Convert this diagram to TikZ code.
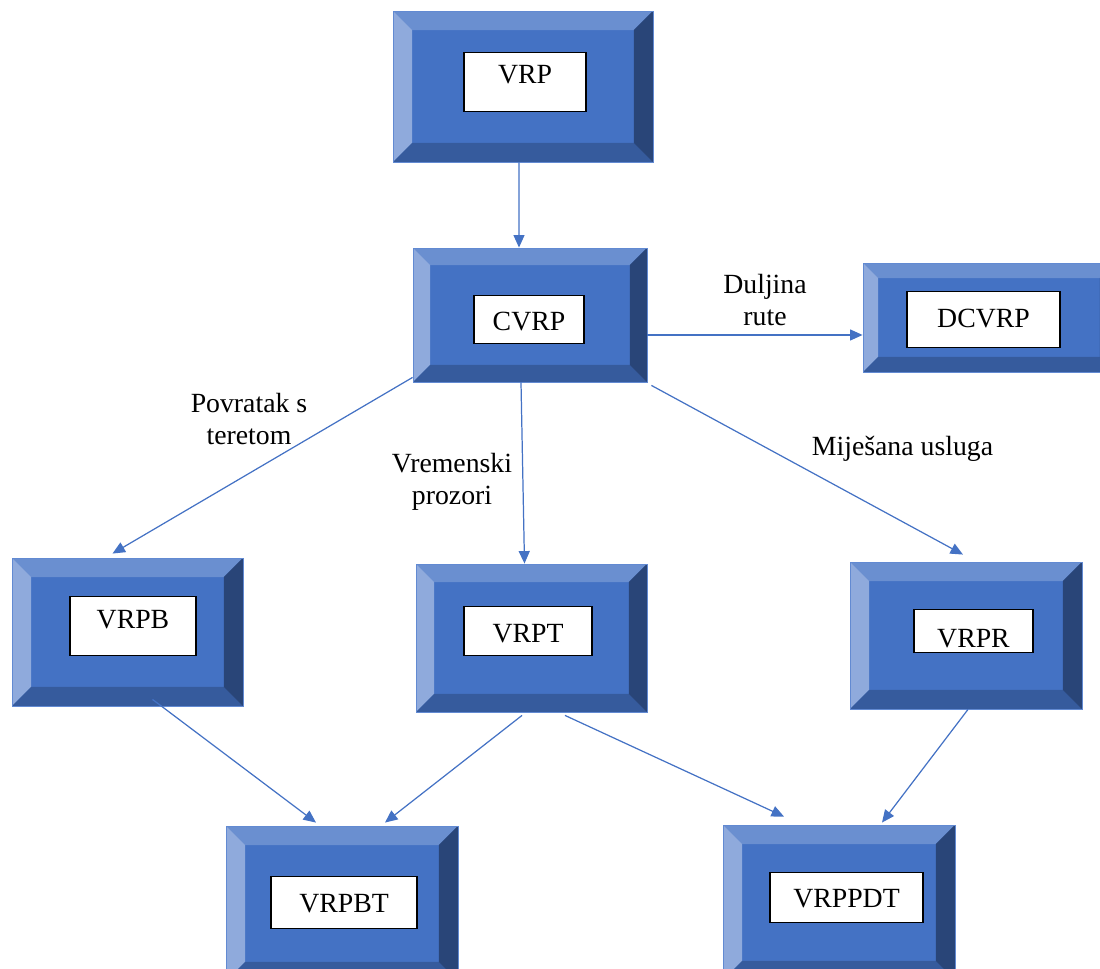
\documentclass[tikz,border=0pt]{standalone}
\usepackage{fontspec}
\setmainfont{Liberation Serif}
\usetikzlibrary{calc, arrows.meta}
\definecolor{boxblue}{RGB}{68, 114, 196}
\definecolor{bevtop}{RGB}{106, 143, 208}
\definecolor{bevleft}{RGB}{143, 170, 220}
\definecolor{bevbottom}{RGB}{54, 91, 157}
\definecolor{bevright}{RGB}{41, 69, 120}
\definecolor{boxrim}{RGB}{98, 138, 210}
\definecolor{linkblue}{RGB}{68, 114, 196}
\tikzset{
    bevel/.store in=\bev, bevel=0.38cm,
    bevelbox/.style n args={2}{rectangle, fill=boxblue, draw=boxrim,
        line width=.5pt, inner sep=0pt, minimum width=#1, minimum height=#2,
        path picture={
            \coordinate (nw) at (path picture bounding box.north west);
            \coordinate (ne) at (path picture bounding box.north east);
            \coordinate (sw) at (path picture bounding box.south west);
            \coordinate (se) at (path picture bounding box.south east);
            \fill[bevtop] (nw) -- (ne) -- ($(ne)+(-\bev,-\bev)$)
                -- ($(nw)+(\bev,-\bev)$) -- cycle;
            \fill[bevleft] (nw) -- ($(nw)+(\bev,-\bev)$)
                -- ($(sw)+(\bev,\bev)$) -- (sw) -- cycle;
            \fill[bevbottom] (sw) -- ($(sw)+(\bev,\bev)$)
                -- ($(se)+(-\bev,\bev)$) -- (se) -- cycle;
            \fill[bevright] (ne) -- ($(ne)+(-\bev,-\bev)$)
                -- ($(se)+(-\bev,\bev)$) -- (se) -- cycle;
        }},
    boxlabel/.style n args={3}{draw=black, fill=white, line width=.8pt,
        inner sep=0pt, anchor=north, minimum width=#1, text height=#2,
        text depth=#3},
    edgetext/.style={align=center, inner sep=0pt, anchor=north},
    link/.style={draw=linkblue, line width=.7pt,
        -{Triangle[length=.25cm, width=.22cm]}},
}

\begin{document}
\begin{tikzpicture}[x=0.02cm, y=-0.02cm, font=\fontsize{15.8}{18}\selectfont]
    \useasboundingbox (0, 0) rectangle (1100, 969);
    % outer boxes
    \node[bevelbox={5.2cm}{3.02cm}] (vrp) at (523, 86.5) {};
    \node[bevelbox={4.68cm}{2.68cm}, bevel=0.34cm] (cvrp) at (530, 315) {};
    \node[bevelbox={5.04cm}{2.18cm}, bevel=0.3cm] (dcvrp) at (989, 317.5) {};
    \node[bevelbox={4.62cm}{2.96cm}] (vrpb) at (127.5, 632) {};
    \node[bevelbox={4.62cm}{2.96cm}, bevel=0.36cm] (vrpt) at (531.5, 638) {};
    \node[bevelbox={4.64cm}{2.94cm}] (vrpr) at (966, 635.5) {};
    \node[bevelbox={4.64cm}{3.1cm}] (vrpbt) at (342, 903.5) {};
    \node[bevelbox={4.64cm}{3.1cm}] (vrppdt) at (839, 902.5) {};
    % white labels
    \node[boxlabel={2.44cm}{0.62cm}{0.56cm}] (vrptext) at (525, 52) {VRP};
    \node[boxlabel={2.2cm}{0.7cm}{0.26cm}] (cvrptext) at (529, 295) {CVRP};
    \node[boxlabel={3.06cm}{0.72cm}{0.4cm}] (dcvrptext) at (983.5, 291)
        {DCVRP};
    \node[boxlabel={2.52cm}{0.64cm}{0.54cm}] (vrpbtext) at (133, 596) {VRPB};
    \node[boxlabel={2.56cm}{0.72cm}{0.26cm}] (vrpttext) at (528, 606) {VRPT};
    \node[boxlabel={2.38cm}{0.76cm}{0.1cm}] (vrprtext) at (973.5, 609) {VRPR};
    \node[boxlabel={2.92cm}{0.72cm}{0.32cm}] (vrpbttext) at (344, 876)
        {VRPBT};
    \node[boxlabel={3.06cm}{0.7cm}{0.3cm}] (vrppdttext) at (846.5, 872)
        {VRPPDT};
    % connectors
    \draw[link] ([xshift=-0.08cm]vrp.south) -- ([xshift=-0.22cm]cvrp.north);
    \draw[link] ([yshift=-0.4cm]cvrp.east)
        -- ([yshift=-0.4cm]cvrp.east -| dcvrp.west);
    \draw[link] ([yshift=0.1cm]cvrp.south west)
        -- ([xshift=-0.3cm, yshift=0.08cm]vrpb.north);
    \draw[link] ([xshift=-0.18cm]cvrp.south) -- ([xshift=-0.14cm]vrpt.north);
    \draw[link] ([xshift=0.08cm, yshift=-0.06cm]cvrp.south east)
        -- ([xshift=-0.06cm, yshift=0.14cm]vrpr.north);
    \draw[link] ([xshift=0.5cm, yshift=0.14cm]vrpb.south)
        -- ([xshift=-0.52cm, yshift=0.06cm]vrpbt.north);
    \draw[link] ([xshift=-0.19cm, yshift=-0.06cm]vrpt.south)
        -- ([xshift=0.86cm, yshift=0.06cm]vrpbt.north);
    \draw[link] ([xshift=0.67cm, yshift=-0.06cm]vrpt.south)
        -- ([xshift=-1.1cm, yshift=0.16cm]vrppdt.north);
    \draw[link] ([xshift=0.04cm]vrpr.south)
        -- ([xshift=0.86cm, yshift=0.04cm]vrppdt.north);
    % connector texts
    \node[edgetext] (duljina) at (765, 274) {Duljina\\rute};
    \node[edgetext] (povratak) at (249, 393) {Povratak s\\teretom};
    \node[edgetext] (vremenski) at (452, 453) {Vremenski\\prozori};
    \node[edgetext] (mijesana) at (902.5, 436) {Miješana usluga};
\end{tikzpicture}
\end{document}
